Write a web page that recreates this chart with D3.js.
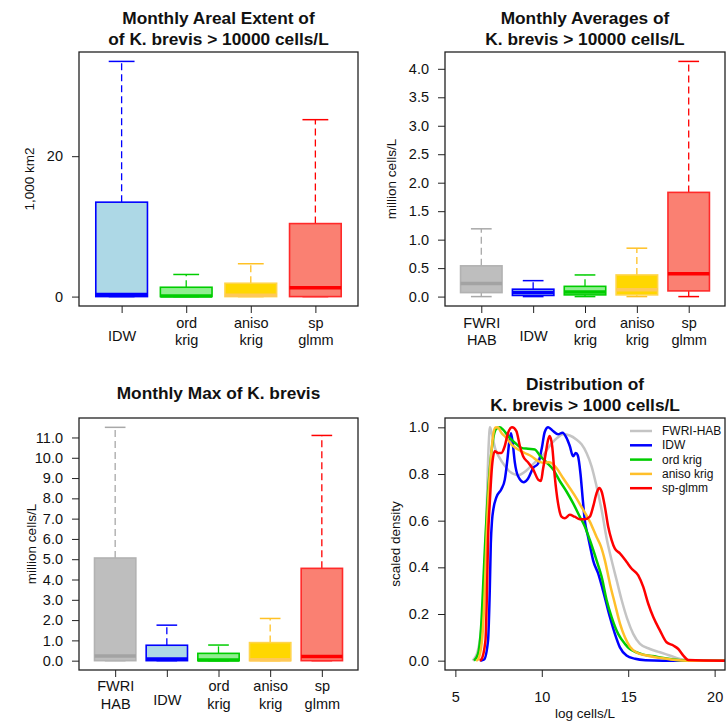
<!DOCTYPE html>
<html><head><meta charset="utf-8">
<script src="https://cdn.jsdelivr.net/npm/d3@7"></script>
<style>
body{margin:0;background:#fff}
text{font-family:"Liberation Sans",Arial,Helvetica,sans-serif;fill:#111}
</style>
</head><body>
<svg id="chart" width="726" height="722"></svg>
<script>
// ---------------- DATA ----------------
// Panel 1: Monthly Areal Extent (1,000 km2)
const areaCategories = ["IDW", "ord krig", "aniso krig", "sp glmm"];
const areaMin    = [0, 0, 0, 0];
const areaQ1     = [0, 0, 0, 0];
const areaMedian = [0.3, 0.1, 0.2, 1.25];
const areaQ3     = [13.45, 1.33, 1.9, 10.4];
const areaMax    = [33.5, 3.15, 4.68, 25.2];
const areaTicks  = [0, 20];

// Panel 2: Monthly Averages (million cells/L)
const avgCategories = ["FWRI HAB", "IDW", "ord krig", "aniso krig", "sp glmm"];
const avgMin    = [0, 0, 0, 0, 0];
const avgQ1     = [0.07, 0.02, 0.03, 0.03, 0.1];
const avgMedian = [0.23, 0.07, 0.08, 0.12, 0.4];
const avgQ3     = [0.54, 0.13, 0.18, 0.38, 1.83];
const avgMax    = [1.19, 0.28, 0.38, 0.85, 4.13];
const avgTicks  = [0, 0.5, 1, 1.5, 2, 2.5, 3, 3.5, 4];

// Panel 3: Monthly Max (million cells/L)
const maxCategories = ["FWRI HAB", "IDW", "ord krig", "aniso krig", "sp glmm"];
const maxMin    = [0, 0, 0, 0, 0];
const maxQ1     = [0, 0, 0, 0, 0];
const maxMedian = [0.23, 0.08, 0.03, 0.05, 0.2];
const maxQ3     = [5.06, 0.76, 0.36, 0.89, 4.55];
const maxMax    = [11.5, 1.75, 0.77, 2.08, 11.1];
const maxTicks  = [0, 1, 2, 3, 4, 5, 6, 7, 8, 9, 10, 11];

// Panel 4: Distribution (scaled density vs log cells/L)
const densitySeries = ["FWRI-HAB", "IDW", "ord krig", "aniso krig", "sp-glmm"];
const densityFWRI = [[6.0,0],[6.29,0.04],[6.58,0.21],[6.78,0.57],[6.93,0.93],[7.0,1.0],[7.12,0.97],[7.3,0.91],[7.55,0.87],[7.86,0.835],[8.15,0.81],[8.63,0.795],[9.11,0.815],[9.6,0.85],[10.07,0.88],[10.56,0.93],[10.9,0.955],[11.23,0.97],[11.62,0.965],[12.0,0.948],[12.3,0.927],[12.59,0.89],[12.88,0.833],[13.17,0.747],[13.46,0.647],[13.75,0.525],[14.04,0.43],[14.33,0.345],[14.62,0.26],[14.94,0.18],[15.29,0.115],[15.68,0.072],[16.26,0.05],[16.84,0.036],[17.4,0.022],[18.0,0.007],[18.6,0.001],[20.8,0]];
const densityIDW = [[6.45,0],[6.66,0.005],[6.89,0.086],[6.99,0.30],[7.05,0.5],[7.12,0.6],[7.2,0.65],[7.37,0.70],[7.66,0.735],[7.86,0.776],[8.01,0.862],[8.12,0.94],[8.22,0.975],[8.32,0.93],[8.44,0.85],[8.63,0.79],[8.95,0.765],[9.2,0.78],[9.5,0.826],[9.79,0.845],[10.0,0.91],[10.17,0.98],[10.37,1.0],[10.65,0.984],[10.94,0.97],[11.2,0.977],[11.43,0.955],[11.62,0.92],[11.81,0.876],[11.97,0.89],[12.08,0.88],[12.24,0.80],[12.36,0.70],[12.49,0.60],[12.68,0.53],[12.85,0.47],[12.97,0.43],[13.26,0.374],[13.65,0.27],[13.94,0.187],[14.23,0.115],[14.52,0.057],[14.9,0.022],[15.4,0.008],[16.0,0.002],[17,0],[20.8,0]];
const densityOrd = [[6.08,0],[6.31,0.029],[6.5,0.158],[6.64,0.374],[6.72,0.5],[6.85,0.68],[6.99,0.82],[7.18,0.948],[7.37,0.994],[7.57,1.0],[7.76,0.99],[8.05,0.963],[8.44,0.934],[8.82,0.912],[9.2,0.908],[9.6,0.905],[9.88,0.88],[10.27,0.85],[10.65,0.82],[11.04,0.77],[11.43,0.725],[11.81,0.675],[12.2,0.617],[12.49,0.575],[12.78,0.517],[13.17,0.43],[13.46,0.36],[13.75,0.26],[14.04,0.187],[14.42,0.115],[14.81,0.072],[15.1,0.05],[15.5,0.035],[15.87,0.026],[16.64,0.017],[17.42,0.007],[18.38,0],[20.8,0]];
const densityAniso = [[6.2,0],[6.31,0.005],[6.54,0.086],[6.7,0.30],[6.8,0.517],[6.89,0.675],[7.05,0.862],[7.18,0.963],[7.32,0.999],[7.45,1.0],[7.66,0.977],[7.95,0.955],[8.24,0.927],[8.63,0.905],[9.01,0.89],[9.4,0.876],[9.79,0.855],[10.1,0.848],[10.4,0.85],[10.6,0.845],[10.85,0.826],[11.23,0.783],[11.62,0.74],[12.0,0.697],[12.39,0.647],[12.78,0.596],[13.17,0.53],[13.42,0.49],[13.65,0.43],[13.94,0.33],[14.23,0.244],[14.52,0.16],[14.81,0.10],[15.1,0.06],[15.49,0.035],[16.07,0.022],[16.84,0.012],[17.6,0.004],[18.5,0],[20.8,0]];
const densitySpGlmm = [[6.4,0],[6.5,0.005],[6.74,0.086],[6.83,0.30],[6.89,0.517],[6.99,0.675],[7.12,0.833],[7.28,0.898],[7.47,0.89],[7.66,0.89],[7.86,0.92],[8.05,0.977],[8.28,1.0],[8.53,0.984],[8.73,0.92],[8.92,0.876],[9.2,0.85],[9.5,0.82],[9.79,0.776],[9.95,0.77],[10.07,0.82],[10.23,0.89],[10.37,0.948],[10.46,0.963],[10.6,0.92],[10.75,0.79],[10.94,0.675],[11.14,0.617],[11.33,0.61],[11.62,0.625],[11.9,0.617],[12.2,0.606],[12.49,0.606],[12.78,0.617],[12.97,0.66],[13.17,0.718],[13.32,0.74],[13.46,0.725],[13.65,0.66],[13.84,0.575],[14.04,0.517],[14.23,0.48],[14.52,0.46],[14.9,0.424],[15.19,0.395],[15.58,0.366],[15.87,0.316],[16.16,0.244],[16.45,0.187],[16.84,0.129],[17.22,0.079],[17.61,0.065],[17.9,0.05],[18.19,0.022],[18.48,0.003],[20.8,0]];
const densityXTicks = [5, 10, 15, 20];
const densityYTicks = [0, 0.2, 0.4, 0.6, 0.8, 1.0];
const densityXLim = [5, 20];
const densityYLim = [0, 1];

// ---------------- STYLES ----------------
const boxStyle = {
  "FWRI HAB":   {fill:"#BEBEBE", stroke:"#B2B2B2", median:"#A3A3A3", whisker:"#A8A8A8"},
  "IDW":        {fill:"#ADD8E6", stroke:"#0000FF", median:"#0000FF", whisker:"#0000FF"},
  "ord krig":   {fill:"#90EE90", stroke:"#00CD00", median:"#00CD00", whisker:"#00CD00"},
  "aniso krig": {fill:"#FFD700", stroke:"#FFD54A", median:"#FFC858", whisker:"#FFC125"},
  "sp glmm":    {fill:"#FA8072", stroke:"#FF2A2A", median:"#FF0000", whisker:"#FF0000"}
};
const lineColors = ["#C4C4C4", "#0000FF", "#00CD00", "#FFBF2A", "#FF0000"];
const FONT_TICK = 14.5, FONT_AX = 13.5, FONT_TITLE = 17.3;

const svg = d3.select("#chart");

function boxPanel(o) {
  const g = svg.append("g");
  const n = o.cats.length;
  const x = d3.scaleLinear().domain([0.5 - 0.04 * n, n + 0.5 + 0.04 * n]).range([o.left, o.right]);
  const lo = d3.min(o.mins), hi = d3.max(o.maxs), pad = 0.04 * (hi - lo);
  const y = d3.scaleLinear().domain([lo - pad, hi + pad]).range([o.bottom, o.top]);
  const bw = 0.8, sw = 0.4;

  const items = o.cats.map((c, i) => ({c, i: i + 1, min: o.mins[i], q1: o.q1[i], med: o.med[i], q3: o.q3[i], max: o.maxs[i], s: boxStyle[c]}));
  const b = g.selectAll("g.bx").data(items).join("g").attr("class", "bx");
  // whiskers
  b.append("line").attr("x1", d => x(d.i)).attr("x2", d => x(d.i)).attr("y1", d => y(d.q3)).attr("y2", d => y(d.max))
    .attr("stroke", d => d.s.whisker).attr("stroke-width", 1.3).attr("stroke-dasharray", "7,4");
  b.append("line").attr("x1", d => x(d.i)).attr("x2", d => x(d.i)).attr("y1", d => y(d.q1)).attr("y2", d => y(d.min))
    .attr("stroke", d => d.s.whisker).attr("stroke-width", 1.3).attr("stroke-dasharray", "7,4");
  // staples
  ["max", "min"].forEach(k => {
    b.append("line").attr("x1", d => x(d.i - sw / 2)).attr("x2", d => x(d.i + sw / 2)).attr("y1", d => y(d[k])).attr("y2", d => y(d[k]))
      .attr("stroke", d => d.s.whisker).attr("stroke-width", 1.5);
  });
  // box
  b.append("rect").attr("x", d => x(d.i - bw / 2)).attr("width", d => x(d.i + bw / 2) - x(d.i - bw / 2))
    .attr("y", d => y(d.q3)).attr("height", d => Math.max(0.5, y(d.q1) - y(d.q3)))
    .attr("fill", d => d.s.fill).attr("stroke", d => d.s.stroke).attr("stroke-width", 1.6);
  // median
  b.append("line").attr("x1", d => x(d.i - bw / 2)).attr("x2", d => x(d.i + bw / 2)).attr("y1", d => y(d.med)).attr("y2", d => y(d.med))
    .attr("stroke", d => d.s.median).attr("stroke-width", 3.5);

  // frame
  g.append("rect").attr("x", o.left).attr("y", o.top).attr("width", o.right - o.left).attr("height", o.bottom - o.top)
    .attr("fill", "none").attr("stroke", "#222").attr("stroke-width", 1.3);

  // y axis
  const ya = g.append("g").attr("transform", `translate(${o.left},0)`)
    .call(d3.axisLeft(y).tickValues(o.ticks).tickSize(7).tickPadding(9).tickFormat(o.fmt));
  ya.select(".domain").remove();
  ya.selectAll("line").attr("stroke", "#222");
  ya.selectAll("text").attr("font-size", FONT_TICK).attr("font-family", null).attr("fill", "#111");
  // x axis
  const xa = g.append("g").attr("transform", `translate(0,${o.bottom})`)
    .call(d3.axisBottom(x).tickValues(d3.range(1, n + 1)).tickSize(7).tickFormat(""));
  xa.select(".domain").remove();
  xa.selectAll("line").attr("stroke", "#222");
  xa.selectAll(".tick").each(function (d) {
    const lines = o.cats[d - 1].split(" ");
    const t = d3.select(this);
    const ys = lines.length === 1 ? [o.single] : o.dbl;
    lines.forEach((ln, k) => t.append("text").attr("y", ys[k]).attr("dominant-baseline", "central")
      .attr("text-anchor", "middle").attr("font-size", FONT_TICK).attr("fill", "#111").text(ln));
  });
  // y label
  g.append("text").attr("transform", `translate(${o.ylabX},${(o.top + o.bottom) / 2}) rotate(-90)`)
    .attr("text-anchor", "middle").attr("dominant-baseline", "central").attr("font-size", FONT_AX).text(o.yLabel);
  // title
  o.title.forEach((t, k) => g.append("text").attr("x", (o.left + o.right) / 2).attr("y", o.titleY[k])
    .attr("text-anchor", "middle").attr("dominant-baseline", "central").attr("font-size", FONT_TITLE)
    .attr("font-weight", "bold").text(t));
}

const fmt1 = d3.format(".1f");

boxPanel({cats: areaCategories, mins: areaMin, q1: areaQ1, med: areaMedian, q3: areaQ3, maxs: areaMax,
  ticks: areaTicks, fmt: d3.format("d"), left: 79, right: 358, top: 52, bottom: 306,
  yLabel: "1,000 km2", ylabX: 29, title: ["Monthly Areal Extent of", "of K. brevis > 10000 cells/L"], titleY: [18, 39],
  single: 30, dbl: [16.7, 34]});

boxPanel({cats: avgCategories, mins: avgMin, q1: avgQ1, med: avgMedian, q3: avgQ3, maxs: avgMax,
  ticks: avgTicks, fmt: fmt1, left: 445, right: 725, top: 52, bottom: 306,
  yLabel: "million cells/L", ylabX: 391, title: ["Monthly Averages of", "K. brevis > 10000 cells/L"], titleY: [18, 39],
  single: 30, dbl: [16.7, 34]});

boxPanel({cats: maxCategories, mins: maxMin, q1: maxQ1, med: maxMedian, q3: maxQ3, maxs: maxMax,
  ticks: maxTicks, fmt: fmt1, left: 79, right: 358, top: 418, bottom: 670,
  yLabel: "million cells/L", ylabX: 31, title: ["Monthly Max of K. brevis"], titleY: [393],
  single: 29.5, dbl: [16, 34]});

// ---------------- DENSITY PANEL ----------------
(function () {
  const left = 445, right = 725, top = 418, bottom = 670;
  const g = svg.append("g");
  const xs = densityXLim, ys = densityYLim;
  const x = d3.scaleLinear().domain([xs[0] - 0.04 * (xs[1] - xs[0]), xs[1] + 0.04 * (xs[1] - xs[0])]).range([left, right]);
  const y = d3.scaleLinear().domain([ys[0] - 0.04 * (ys[1] - ys[0]), ys[1] + 0.04 * (ys[1] - ys[0])]).range([bottom, top]);
  g.append("clipPath").attr("id", "dclip").append("rect").attr("x", left).attr("y", top).attr("width", right - left).attr("height", bottom - top);
  const series = [densityFWRI, densityIDW, densityOrd, densityAniso, densitySpGlmm];
  const line = d3.line().x(d => x(d[0])).y(d => y(d[1])).curve(d3.curveMonotoneX);
  g.append("g").attr("clip-path", "url(#dclip)").selectAll("path").data(series).join("path")
    .attr("d", line).attr("fill", "none").attr("stroke", (d, i) => lineColors[i]).attr("stroke-width", 2.5)
    .attr("stroke-linejoin", "round");
  g.append("rect").attr("x", left).attr("y", top).attr("width", right - left).attr("height", bottom - top)
    .attr("fill", "none").attr("stroke", "#222").attr("stroke-width", 1.3);
  const ya = g.append("g").attr("transform", `translate(${left},0)`)
    .call(d3.axisLeft(y).tickValues(densityYTicks).tickSize(7).tickPadding(9).tickFormat(fmt1));
  ya.select(".domain").remove();
  ya.selectAll("line").attr("stroke", "#222");
  ya.selectAll("text").attr("font-size", FONT_TICK).attr("font-family", null).attr("fill", "#111");
  const xa = g.append("g").attr("transform", `translate(0,${bottom})`)
    .call(d3.axisBottom(x).tickValues(densityXTicks).tickSize(7).tickPadding(15).tickFormat(d3.format("d")));
  xa.select(".domain").remove();
  xa.selectAll("line").attr("stroke", "#222");
  xa.selectAll("text").attr("font-size", FONT_TICK).attr("font-family", null).attr("fill", "#111");
  g.append("text").attr("transform", `translate(395,${(top + bottom) / 2}) rotate(-90)`)
    .attr("text-anchor", "middle").attr("dominant-baseline", "central").attr("font-size", FONT_AX).text("scaled density");
  g.append("text").attr("x", (left + right) / 2).attr("y", 718).attr("text-anchor", "middle")
    .attr("font-size", FONT_AX).text("log cells/L");
  ["Distribution of", "K. brevis > 1000 cells/L"].forEach((t, k) => g.append("text").attr("x", (left + right) / 2)
    .attr("y", [384, 405][k]).attr("text-anchor", "middle").attr("dominant-baseline", "central")
    .attr("font-size", FONT_TITLE).attr("font-weight", "bold").text(t));
  // legend
  const lg = g.append("g").attr("transform", "translate(630,431)");
  const row = lg.selectAll("g").data(densitySeries).join("g").attr("transform", (d, i) => `translate(0,${i * 14.3})`);
  row.append("line").attr("x1", 0).attr("x2", 22).attr("stroke", (d, i) => lineColors[i]).attr("stroke-width", 2.5);
  row.append("text").attr("x", 32).attr("dominant-baseline", "central").attr("font-size", 12).attr("fill", "#222").text(d => d);
})();
</script>
</body></html>
